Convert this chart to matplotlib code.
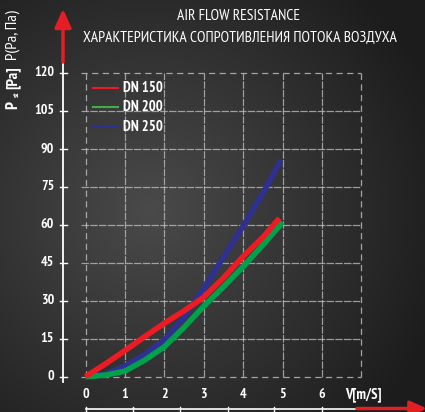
import numpy as np
import matplotlib
matplotlib.use("Agg")
import matplotlib.pyplot as plt
from matplotlib.transforms import Affine2D

plt.rcParams['font.family'] = ['PT Sans Narrow', 'DejaVu Sans']

# data
v_red = [0, 0.5, 1, 1.5, 2, 2.5, 3, 3.5, 4, 4.5, 4.92]
p_red = [0, 5, 10.3, 15.8, 21.1, 26, 31.4, 39, 47.5, 55, 62.6]
v_green = [0, 0.5, 1, 1.5, 2, 2.5, 3, 3.5, 4, 4.5, 5]
p_green = [0, 0.6, 2.2, 6.5, 11.8, 19.5, 27.8, 35.5, 43.5, 52, 61]
v_blue = [0, 0.5, 1, 1.5, 2, 2.5, 3, 3.5, 4, 4.5, 4.96]
p_blue = [0, 1, 4.2, 8.8, 14.5, 23.5, 34.8, 47.2, 59.5, 72.5, 85.6]
labels = ['DN 150', 'DN 200', 'DN 250']
colors = ['#ed1c24', '#00a14b', '#2e3192']
legend_colors = ['#ed1c24', '#3fae49', '#2e3192']
xticks = [0, 1, 2, 3, 4, 5, 6]
yticks = [0, 15, 30, 45, 60, 75, 90, 105, 120]

W, H = 425, 412
# pixel position of data origin and scale
X0, SX = 85.5, 39.4
Y0, SY = 376.7, 2.531

def dx(px):
    return (px - X0) / SX

def dy(py):
    return (Y0 - py) / SY

fig = plt.figure(figsize=(W / 100, H / 100), dpi=100)
ax = fig.add_axes([0, 0, 1, 1])
ax.set_xlim(dx(0), dx(W))
ax.set_ylim(dy(H), dy(0))
ax.axis('off')
pxt = Affine2D().scale(1 / W, -1 / H).translate(0, 1) + fig.transFigure

# background radial gradient
yy, xx = np.mgrid[0:H, 0:W]
r = np.sqrt((xx - 150) ** 2 + (yy - 210) ** 2) / 320
g = np.clip(74 - 48 * r, 28, 80) / 255
bg = np.dstack([g, g, g])
ax.imshow(bg, extent=[dx(0), dx(W), dy(H), dy(0)], aspect='auto', zorder=0)

# grid
gc = '#c2c2c2'
for x in range(1, 7):
    ax.plot([x, x], [0, 120], color=gc, lw=0.9, ls=(0, (6, 1)), alpha=0.75, zorder=1)
for y in yticks[1:-1]:
    ax.plot([dx(80.5), 7], [y, y], color=gc, lw=0.9, ls=(0, (6, 1)), alpha=0.75, zorder=1)
for x in [0, 7]:
    ax.plot([x, x], [0, 120], color=gc, lw=0.9, ls=(0, (5, 3.5)), alpha=0.8, zorder=1)
for y in [0, 120]:
    ax.plot([dx(80.5), 7], [y, y], color=gc, lw=0.9, ls=(0, (5, 3.5)), alpha=0.8, zorder=1)

# y axis line and ticks
ax.plot([dx(63), dx(63)], [dy(382), dy(62)], color='white', lw=1.3, zorder=2)
for y in yticks:
    ax.plot([dx(59.5), dx(66.5)], [y, y], color='white', lw=1, zorder=2)
    ax.text(dx(54), y, str(y), color='white', fontsize=10, fontweight='bold',
            ha='right', va='center')
ax.annotate('', xy=(63, 9), xytext=(63, 62), xycoords=pxt, textcoords=pxt,
            arrowprops=dict(arrowstyle='-|>,head_length=1.1,head_width=0.5',
                            color='#e31e24', lw=2.5, shrinkA=0, shrinkB=0))

# x tick labels
for x in xticks:
    ax.text(x, dy(395), str(x), color='white', fontsize=10, fontweight='bold',
            ha='center', va='center')
ax.text(dx(345), dy(395), 'V[m/S]', color='white', fontsize=10.5, fontweight='bold',
        ha='left', va='center')

# bottom decorative axis
ax.plot([dx(86), dx(358)], [dy(409), dy(409)], color='white', lw=1.2, zorder=2)
for px in [86, 133, 180, 228, 274, 322]:
    ax.plot([dx(px), dx(px)], [dy(406.5), dy(411)], color='white', lw=1, zorder=2)
ax.annotate('', xy=(427, 408.5), xytext=(357, 408.5), xycoords=pxt, textcoords=pxt,
            arrowprops=dict(arrowstyle='-|>,head_length=1.0,head_width=0.45',
                            color='#e31e24', lw=2.5, shrinkA=0, shrinkB=0),
            annotation_clip=False)

# curves
ax.plot(v_blue, p_blue, color=colors[2], lw=4, solid_capstyle='butt', zorder=5)
ax.plot(v_green, p_green, color=colors[1], lw=4, solid_capstyle='butt', zorder=6)
ax.plot(v_red, p_red, color=colors[0], lw=4, solid_capstyle='butt', zorder=7)

# legend
for i, (lab, c) in enumerate(zip(labels, legend_colors)):
    py = 88 + i * 19.3
    ax.plot([dx(93), dx(118)], [dy(py), dy(py)], color=c, lw=1.5, zorder=4)
    ax.text(dx(123), dy(py), lab, color='white', fontsize=10.5, fontweight='bold',
            ha='left', va='center')

# titles
ax.text(239, 16, 'AIR FLOW RESISTANCE', transform=pxt, color='white',
        fontsize=11.2, ha='center', va='center')
ax.text(240, 37.5, 'ХАРАКТЕРИСТИКА СОПРОТИВЛЕНИЯ ПОТОКА ВОЗДУХА', transform=pxt,
        color='white', fontsize=11.2, ha='center', va='center')

# y label
ax.text(13, 105, 'P', transform=pxt, color='white', fontsize=12, fontweight='bold',
        rotation=90, ha='center', va='center')
ax.text(17.5, 94.5, 'st', transform=pxt, color='white', fontsize=6, fontweight='bold',
        rotation=90, ha='center', va='center')
ax.text(13, 78, '[Pa]', transform=pxt, color='white', fontsize=11.5, fontweight='bold',
        rotation=90, ha='center', va='center')
ax.text(13, 35, 'P(Pa, Па)', transform=pxt, color='white', fontsize=11.8,
        rotation=90, ha='center', va='center')

fig.savefig('out.png', dpi=100)
